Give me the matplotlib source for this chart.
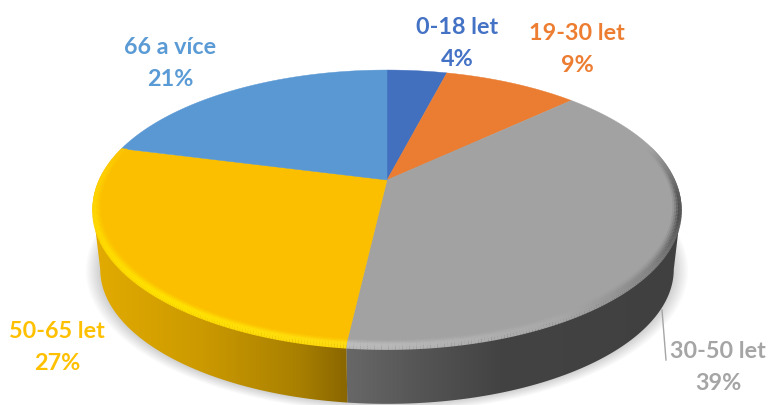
import numpy as np
import matplotlib
matplotlib.use("Agg")
import matplotlib.pyplot as plt
from matplotlib.collections import LineCollection
from matplotlib.colors import to_rgb
from matplotlib.patches import Polygon

labels = ["0-18 let", "19-30 let", "30-50 let", "50-65 let", "66 a více"]
values = [4, 9, 38.8, 27.2, 21]
top_colors = ["#4270BF", "#EA7D32", "#A2A2A2", "#FBBF00", "#5A98D4"]
text_colors = ["#4472C4", "#ED7D31", "#A5A5A5", "#FFC000", "#5B9BD5"]
label_x = [457, 577, 718, 57, 170]
label_y = [27, 34, 352, 331, 48]

# side shading, colour against pixel x
yellow_x = [95, 200, 300, 346]
yellow_side = ["#E2AB00", "#CC9A00", "#A87F00", "#8A6700"]
gray_x = [346, 420, 500, 690]
gray_side = ["#686868", "#555555", "#434343", "#404040"]

# bevel colour against angle (degrees clockwise from the top)
gray_rim_t = [75, 95, 105, 125, 150, 187.2]
gray_rim = ["#A2A2A2", "#505050", "#4A4A4A", "#808080", "#A8A8A8", "#BDBDBD"]
yellow_rim_t = [187.2, 220, 250, 275, 290]
yellow_rim = ["#FFDD10", "#FFE400", "#FFDC00", "#FFD000", "#FBBF00"]

# perspective of the disc, fitted to the picture
CX, CY = 387, 180
A, B, K = 288, 132.3, 0.203
# where the outline of the disc turns over, seen from this angle
EDGE_R = 90 + np.degrees(np.arcsin(K))
EDGE_L = 270 - np.degrees(np.arcsin(K))


def project(theta, r=1.0, scale=1.0, dy=0.0):
    t = np.radians(theta)
    u, v = r * np.sin(t), r * np.cos(t)
    w = 1 + K * v
    return CX + scale * A * u / w, CY + dy - scale * B * v / w


def arc(t1, t2, r=1.0, scale=1.0, dy=0.0):
    t = np.linspace(t1, t2, 200)
    x, y = project(t, r, scale, dy)
    return np.column_stack([x, y])


def ramp(xs, stops, colors):
    rgb = np.array([to_rgb(c) for c in colors])
    return np.column_stack([np.interp(xs, stops, rgb[:, i]) for i in range(3)])


def side_face(ax, t1, t2, stops, colors):
    poly = np.vstack([arc(t1, t2), arc(t2, t1, scale=0.975, dy=62)])
    xs = np.linspace(80, 700, 620)
    img = ramp(xs, stops, colors)[np.newaxis, :, :]
    im = ax.imshow(img, extent=(80, 700, 420, 150), aspect="auto", zorder=3)
    patch = Polygon(poly, closed=True, transform=ax.transData, fc="none", ec="none")
    ax.add_patch(patch)
    im.set_clip_path(patch)


def rim(ax, t1, t2, stops, colors, face):
    # thin rings that fade from the face colour into the bevel colour,
    # the last ones slide down onto the side
    face = np.array(to_rgb(face))
    rings = [(0.976, 0, 0.15), (0.982, 0, 0.4), (0.988, 0, 0.7), (0.994, 0, 0.95),
             (0.997, 1.5, 1.0), (0.998, 3, 0.85)]
    for r, shift, mix in rings:
        pts = arc(t1, t2, r=r, dy=shift)
        segs = np.stack([pts[:-1], pts[1:]], axis=1)
        t = np.linspace(t1, t2, len(segs))
        cols = ramp(t, stops, colors) * mix + face * (1 - mix)
        ax.add_collection(LineCollection(segs, colors=cols, linewidths=1.9, zorder=5, capstyle="butt"))


fig = plt.figure(figsize=(7.71, 4.05), dpi=100)
ax = fig.add_axes([0, 0, 1, 1])

# soft shadow under the disc
for grow in np.linspace(1.05, 1.0, 10):
    pts = arc(0, 360, scale=0.975 * grow, dy=62)
    ax.fill(pts[:, 0], pts[:, 1], color="#000000", alpha=0.018, lw=0, zorder=1)

angles = np.concatenate([[0], np.cumsum(values)]) * 3.6

side_face(ax, EDGE_R, angles[3], gray_x, gray_side)
side_face(ax, angles[3], EDGE_L, yellow_x, yellow_side)

for i, color in enumerate(top_colors):
    pts = np.vstack([[[CX, CY]], arc(angles[i], angles[i + 1])])
    ax.fill(pts[:, 0], pts[:, 1], color=color, lw=0.3, zorder=4)

rim(ax, max(angles[2], 75), angles[3], gray_rim_t, gray_rim, top_colors[2])
rim(ax, angles[3], angles[4], yellow_rim_t, yellow_rim, top_colors[3])

# leader line of the 30-50 label
ax.plot([662, 666], [310, 360], color="#A5A5A5", lw=1, zorder=6)

for i, name in enumerate(labels):
    ax.text(label_x[i], label_y[i], name, color=text_colors[i], fontsize=16.8,
            fontweight="bold", family="Lato", ha="center", va="center", zorder=7)
    ax.text(label_x[i], label_y[i] + 32, f"{values[i]:.0f}%", color=text_colors[i], fontsize=16.8,
            fontweight="bold", family="Lato", ha="center", va="center", zorder=7)

ax.set_xlim(0, 771)
ax.set_ylim(405, 0)
ax.axis("off")
fig.savefig("out.png", dpi=100)
